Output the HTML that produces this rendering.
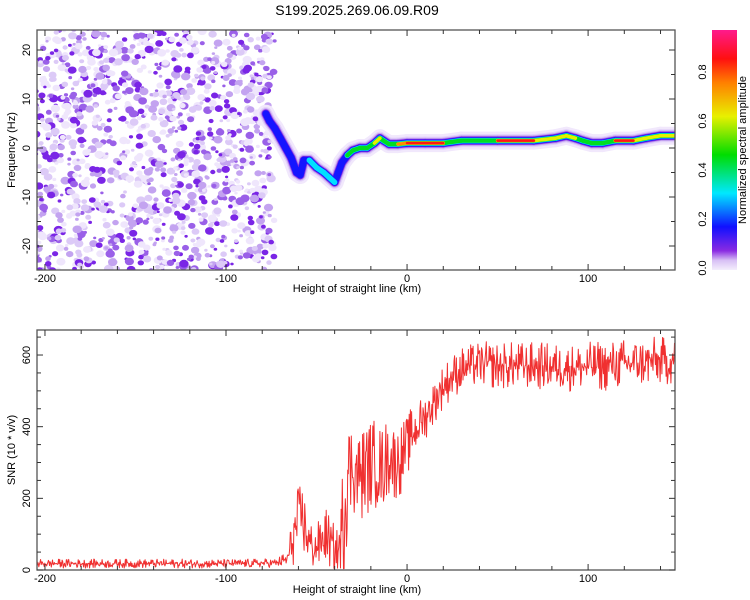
<!DOCTYPE html>
<html><head><meta charset="utf-8">
<style>
html,body{margin:0;padding:0;background:#fff;}
svg{display:block;font-family:"Liberation Sans",sans-serif;}
</style></head>
<body>
<svg id="fig" width="750" height="600" viewBox="0 0 750 600">
  <text x="357" y="15" font-size="14" text-anchor="middle">S199.2025.269.06.09.R09</text>
  <defs>
    <clipPath id="topClip"><rect x="37" y="30" width="638" height="240"/></clipPath>
    <clipPath id="botClip"><rect x="37" y="330" width="638" height="240"/></clipPath>
    <linearGradient id="cbar" x1="0" y1="1" x2="0" y2="0">
      <stop offset="0" stop-color="#f4eefc"/>
      <stop offset="0.04" stop-color="#d8c0f5"/>
      <stop offset="0.08" stop-color="#8a2be2"/>
      <stop offset="0.18" stop-color="#1010ff"/>
      <stop offset="0.32" stop-color="#00e8ff"/>
      <stop offset="0.48" stop-color="#00dd00"/>
      <stop offset="0.64" stop-color="#e8f000"/>
      <stop offset="0.78" stop-color="#ff8000"/>
      <stop offset="0.88" stop-color="#ff1010"/>
      <stop offset="1" stop-color="#ff1a8c"/>
    </linearGradient>
  </defs>
  <g id="heat" clip-path="url(#topClip)"></g>
  <g id="topAxes"></g>
  <g id="snr" clip-path="url(#botClip)"></g>
  <g id="botAxes"></g>
  <rect x="712" y="30" width="25" height="240" fill="url(#cbar)"/>
  <g id="cbarAxis"></g>
  <text transform="translate(746,150) rotate(-90)" font-size="11" text-anchor="middle">Normalized spectral amplitude</text>
  <text transform="translate(15,150) rotate(-90)" font-size="11" text-anchor="middle">Frequency (Hz)</text>
  <text x="357" y="292" font-size="11" text-anchor="middle">Height of straight line (km)</text>
  <text transform="translate(15,450) rotate(-90)" font-size="11" text-anchor="middle">SNR (10 * v/v)</text>
  <text x="357" y="593" font-size="11" text-anchor="middle">Height of straight line (km)</text>
</svg>
<script>
// ---- data ----
const xTicks = [-200, -100, 0, 100];
const freqTicks = [-20, -10, 0, 10, 20];
const snrTicks = [0, 200, 400, 600];
const cbarTicks = [0.0, 0.2, 0.4, 0.6, 0.8];
// ridge track: height (km), frequency (Hz), amplitude
const ridgeHeight = [-78,-76,-73,-70,-67,-64,-61,-59,-57,-54,-50,-46,-43,-40,-38,-36,-33,-30,-26,-22,-18,-15,-13,-10,-5,0,10,20,30,50,70,82,88,93,97,102,108,115,125,132,140,150];
const ridgeFreq   = [7,5.5,4,2,0,-2,-5,-5.5,-2.5,-2.5,-4,-5,-6,-7,-5,-3,-1.5,-0.5,0,0,1,2,1.5,0.8,0.8,1,1,1,1.5,1.5,1.5,2,2.5,2,1.5,1,1,1.5,1.5,2,2.5,2.5];
const ridgeAmp    = [0.2,0.3,0.28,0.3,0.25,0.2,0.3,0.22,0.25,0.35,0.45,0.3,0.3,0.35,0.22,0.25,0.45,0.5,0.62,0.6,0.66,0.7,0.5,0.6,0.75,0.88,0.9,0.85,0.6,0.9,0.9,0.7,0.86,0.7,0.6,0.86,0.6,0.86,0.88,0.65,0.7,0.86];
// SNR mean envelope & noise amplitude by height
const snrHeight = [-205,-90,-72,-66,-62,-58,-55,-52,-48,-45,-42,-38,-35,-33,-30,-26,-22,-18,-14,-10,-6,-2,2,6,10,14,18,22,26,30,40,50,70,90,110,130,150];
const snrMean   = [18,18,20,30,110,150,90,60,70,100,70,50,150,270,290,260,290,300,280,320,300,320,370,400,430,460,500,525,545,560,575,570,570,565,570,580,585];
const snrNoise  = [14,14,14,30,110,120,90,70,80,90,80,70,220,200,150,150,150,140,140,130,120,110,90,80,75,70,70,70,70,70,70,75,75,75,80,80,75];

// ---- scales ----
const X0=37, X1=675, HMIN=-204.4, HMAX=148;
const xs = h => X0 + (h-HMIN)/(HMAX-HMIN)*(X1-X0);
const yF = f => 148 - f*4.9;
const yS = v => 570 - v*0.3583;
const NS="http://www.w3.org/2000/svg";
function mk(tag, attrs, parent){const e=document.createElementNS(NS,tag);for(const k in attrs)e.setAttribute(k,attrs[k]);parent.appendChild(e);return e;}
function interp(xa, ya, x){ if(x<=xa[0])return ya[0]; for(let i=1;i<xa.length;i++){ if(x<=xa[i]){const t=(x-xa[i-1])/(xa[i]-xa[i-1]);return ya[i-1]+t*(ya[i]-ya[i-1]);}} return ya[ya.length-1]; }
let seed=12345; function rnd(){seed=(seed*1103515245+12345)%2147483648;return seed/2147483648;}

// ---- spectrogram background noise ----
const heat=document.getElementById('heat');
const noiseCols=['#efe6fc','#dccaf7','#c3a3f0','#9a60e8','#7a25e6'];
for(let i=0;i<1350;i++){
  const h=-206+rnd()*133, f=-25+rnd()*50;
  const lvl=Math.floor(Math.pow(rnd(),1.2)*5);
  const r=1.3+rnd()*2.6;
  const c=mk('ellipse',{cx:xs(h).toFixed(1),cy:yF(f).toFixed(1),rx:(r*1.2).toFixed(1),ry:r.toFixed(1),fill:noiseCols[lvl]},heat);
  
  
}
// ---- ridge ----
const levels=[[0.0,'#f1e8fc',18],[0.0,'#e2d0fa',13],[0.08,'#c0a0f0',10.5],[0.12,'#8a2be2',8.5],[0.18,'#1515ff',7],[0.3,'#00e0ff',5.5],[0.45,'#00dd22',4.3],[0.62,'#e6ef00',3.5],[0.75,'#ff8a00',3],[0.84,'#ff1515',2.5]];
levels.forEach(([th,col,w])=>{
  for(let i=1;i<ridgeHeight.length;i++){
    const a=Math.min(ridgeAmp[i-1],ridgeAmp[i]);
    if(a<th) continue;
    const l=mk('line',{x1:xs(ridgeHeight[i-1]),y1:yF(ridgeFreq[i-1]),x2:xs(ridgeHeight[i]),y2:yF(ridgeFreq[i]),stroke:col,'stroke-width':w,'stroke-linecap':'round'},heat);
    
    
  }
});

// ---- SNR line ----
const snrG=document.getElementById('snr');
let pts=[];
for(let h=HMIN; h<=HMAX; h+=0.33){
  const m=interp(snrHeight,snrMean,h), n=interp(snrHeight,snrNoise,h);
  const r=rnd()-0.5;
  let v=m+Math.sign(r)*Math.pow(Math.abs(r)*2,1.6)*n*0.9;
  if(v<2)v=2+rnd()*4;
  pts.push(xs(h).toFixed(1)+','+yS(v).toFixed(1));
}
const pl=mk('polyline',{points:pts.join(' '),fill:'none',stroke:'#f03030','stroke-width':1,'stroke-linejoin':'round'},snrG);



// ---- axes ----
function frame(g,top,bot){
  const r=mk('rect',{x:X0,y:top,width:X1-X0,height:bot-top,fill:'none',stroke:'#555','stroke-width':1.3},g);
  
  
  for(let h=-200;h<=140;h+=20){
    const major=h%100===0, len=major?6:4;
    mk('line',{x1:xs(h),y1:bot,x2:xs(h),y2:bot-len,stroke:'#333'},g);
    mk('line',{x1:xs(h),y1:top,x2:xs(h),y2:top+len,stroke:'#333'},g);
  }
  xTicks.forEach(h=>{
    const t=mk('text',{x:xs(h),y:bot+12,'font-size':11,'text-anchor':'middle'},g);
    t.textContent=h;
    
    
  });
}
const tA=document.getElementById('topAxes');
frame(tA,30,270);
for(let f=-20;f<=20;f+=5){
  const len=f%10===0?6:4;
  mk('line',{x1:X0,y1:yF(f),x2:X0+len,y2:yF(f),stroke:'#333'},tA);
  mk('line',{x1:X1,y1:yF(f),x2:X1-len,y2:yF(f),stroke:'#333'},tA);
}
freqTicks.forEach(f=>{
  const t=mk('text',{transform:`translate(30,${yF(f)}) rotate(-90)`,'font-size':11,'text-anchor':'middle'},tA);
  t.textContent=f;
  
  
});
const bA=document.getElementById('botAxes');
frame(bA,330,570);
for(let v=0;v<=650;v+=50){
  const len=v%200===0?6:4;
  mk('line',{x1:X0,y1:yS(v),x2:X0+len,y2:yS(v),stroke:'#333'},bA);
  mk('line',{x1:X1,y1:yS(v),x2:X1-len,y2:yS(v),stroke:'#333'},bA);
}
snrTicks.forEach(v=>{
  const t=mk('text',{transform:`translate(30,${yS(v)}) rotate(-90)`,'font-size':11,'text-anchor':'middle'},bA);
  t.textContent=v;
  
  
});
const cA=document.getElementById('cbarAxis');
cbarTicks.forEach(v=>{
  const y=268-v*245;
  const t=mk('text',{transform:`translate(706,${y}) rotate(-90)`,'font-size':11,'text-anchor':'middle'},cA);
  t.textContent=v.toFixed(1);
  
  
});
</script>
</body></html>
